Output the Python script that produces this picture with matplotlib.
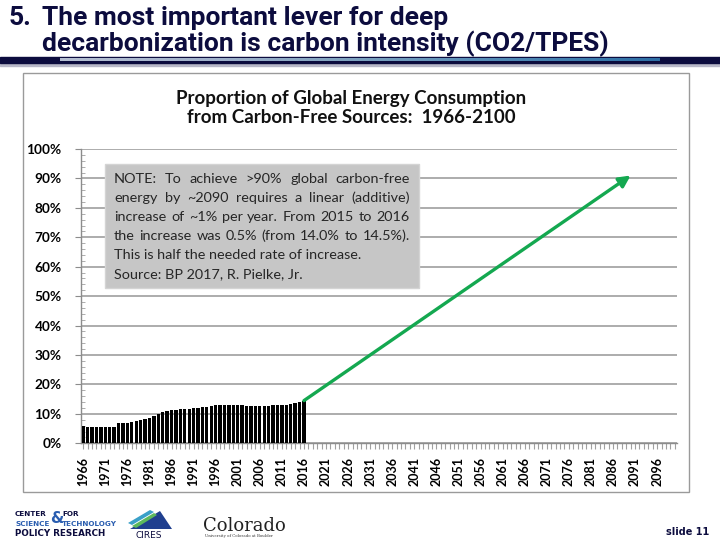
import numpy as np
import matplotlib.pyplot as plt
from matplotlib.patches import Rectangle, Polygon
from matplotlib.ticker import FixedLocator, MultipleLocator, FuncFormatter

# ---- data ----
years = list(range(1966, 2101))
bar_years = list(range(1966, 2017))
carbon_free_pct = [
    5.9, 5.6, 5.6, 5.6, 5.6, 5.6, 5.6, 5.6, 6.8, 6.9,
    6.9, 7.4, 7.5, 7.8, 8.2, 8.7, 9.3, 9.9, 10.5, 11.0,
    11.3, 11.4, 11.5, 11.6, 11.6, 12.0, 12.0, 12.3, 12.5, 12.8,
    12.9, 12.9, 13.0, 13.1, 13.0, 13.0, 13.0, 12.7, 12.7, 12.7,
    12.7, 12.6, 12.7, 13.0, 13.0, 13.0, 12.9, 13.2, 13.6, 14.0,
    14.5,
]
target_start = (2016, 14.5)
target_end = (2090, 91.0)
y_ticks = list(range(0, 101, 10))
x_label_years = list(range(1966, 2100, 5))

note_lines = [
    "NOTE: To achieve >90% global carbon-free",
    "energy by ~2090 requires a linear (additive)",
    "increase of ~1% per year. From 2015 to 2016",
    "the increase was 0.5% (from 14.0% to 14.5%).",
    "This is half the needed rate of increase.",
    "Source: BP 2017, R. Pielke, Jr.",
]
note_justify = [True, True, True, True, False, False]

slide_title = ["5.", "The most important lever for deep",
               "decarbonization is carbon intensity (CO2/TPES)"]
chart_title = "Proportion of Global Energy Consumption\nfrom Carbon-Free Sources:  1966-2100"

NAVY = "#0c0c3e"
GREEN = "#14a850"
GRID = "#a6a6a6"

W, H = 720, 540
fig = plt.figure(figsize=(7.2, 5.4), dpi=100)


def px_rect(x0, y0, x1, y1):
    # pixel box (top-left origin) -> figure fraction
    return [x0 / W, 1 - y1 / H, (x1 - x0) / W, (y1 - y0) / H]


# ---- main chart ----
ax = fig.add_axes(px_rect(81, 149, 677, 443.3))
ax.bar(bar_years, carbon_free_pct, width=0.75, color="black", zorder=3)
ax.annotate("", xy=target_end, xytext=target_start,
            arrowprops=dict(arrowstyle="-|>", color=GREEN, lw=2.4,
                            mutation_scale=17, shrinkA=0, shrinkB=0),
            zorder=4)

ax.set_xlim(years[0] - 0.5, years[-1] + 0.5)
ax.set_ylim(0, 100)
ax.yaxis.set_major_locator(FixedLocator(y_ticks))
ax.yaxis.set_minor_locator(MultipleLocator(2))
ax.yaxis.set_major_formatter(FuncFormatter(lambda v, p: f"{v:.0f}%"))
ax.xaxis.set_major_locator(FixedLocator(x_label_years))
ax.xaxis.set_minor_locator(FixedLocator(years))
ax.set_xticklabels([str(y) for y in x_label_years], rotation=90,
                   fontsize=9, fontweight="bold", family="Lato")
for lab in ax.get_yticklabels():
    lab.set_fontsize(9.8)
    lab.set_fontweight("bold")
    lab.set_family("Lato")

ax.grid(axis="y", color=GRID, lw=1.3, zorder=0)
ax.set_axisbelow(True)
for s in ["top", "right"]:
    ax.spines[s].set_visible(False)
for s in ["left", "bottom"]:
    ax.spines[s].set_color("#8c8c8c")
    ax.spines[s].set_linewidth(1.0)
ax.tick_params(axis="y", which="major", length=4, color="#8c8c8c", pad=10)
ax.tick_params(axis="y", which="minor", length=3, direction="in", color="#a0a0a0")
ax.tick_params(axis="x", which="both", length=4, color="#a0a0a0", width=0.8, pad=6)

# ---- slide decoration in pixel coordinates ----
deco = fig.add_axes([0, 0, 1, 1])
deco.axis("off")

tkw = dict(fontsize=19, fontweight="bold", family="Roboto", color=NAVY, va="baseline")
deco.text(9, 25, slide_title[0], **tkw)
deco.text(42, 25, slide_title[1], **tkw)
deco.text(42, 51, slide_title[2], **tkw)

# blue rule under the title
grad = np.linspace(0, 1, 256).reshape(1, -1)
deco.add_patch(Rectangle((0, 63), W, 2.5, color="#b8b8c8", zorder=1))
deco.add_patch(Rectangle((0, 57), W, 6, color=NAVY, zorder=2))
deco.imshow(np.vstack([grad, grad]), extent=(60, 660, 61.5, 58.5), cmap="Blues",
            vmin=-0.2, vmax=1.6, aspect="auto", zorder=3, alpha=0.8)
deco.set_xlim(0, W)
deco.set_ylim(H, 0)

# chart frame
deco.add_patch(Rectangle((23, 73), 666, 419, fill=False, ec="#9a9a9a", lw=1.0))
deco.text(351, 108, chart_title, fontsize=13.5, fontweight="bold", family="Lato",
          ha="center", va="center", linespacing=1.2, color="#111111")

# note box with justified text
deco.add_patch(Rectangle((105, 164), 314, 124, fc="#c6c6c6", ec="#d4d4d4", lw=1, zorder=5))
fig.canvas.draw()
rend = fig.canvas.get_renderer()
tx0, tx1 = 114, 410
for i, (line, just) in enumerate(zip(note_lines, note_justify)):
    yb = 183.3 + i * 19
    kw = dict(fontsize=10.4, family="Lato", color="#262626", va="baseline", zorder=6)
    if not just:
        deco.text(tx0, yb, line, **kw)
        continue
    words = line.split(" ")
    arts = [deco.text(0, yb, w, **kw) for w in words]
    widths = [a.get_window_extent(rend).width for a in arts]
    gap = (tx1 - tx0 - sum(widths)) / (len(words) - 1)
    x = tx0
    for a, wd in zip(arts, widths):
        a.set_x(x)
        x += wd + gap

# footer logos (approximate)
deco.text(15, 516, "CENTER", fontsize=5.2, fontweight="bold", color=NAVY, family="DejaVu Sans")
deco.text(50, 523, "&", fontsize=11, fontweight="bold", color="#2a5db0", family="DejaVu Sans")
deco.text(62, 516, "FOR", fontsize=5.2, fontweight="bold", color=NAVY, family="DejaVu Sans")
deco.text(15, 526, "SCIENCE", fontsize=5.2, fontweight="bold", color="#2a5db0", family="DejaVu Sans")
deco.text(62, 526, "TECHNOLOGY", fontsize=5.2, fontweight="bold", color="#2a5db0", family="DejaVu Sans")
deco.text(15, 536, "POLICY RESEARCH", fontsize=6.3, fontweight="bold", color=NAVY, family="DejaVu Sans")
deco.add_patch(Polygon([(130, 529), (160, 511), (172, 529)], closed=True, fc="#1f3f8f"))
deco.add_patch(Polygon([(128, 523), (150, 510), (154, 512), (132, 525)], closed=True, fc="#3aa0c8"))
deco.add_patch(Polygon([(132, 526), (154, 513), (157, 515), (136, 528)], closed=True, fc="#5cb85c"))
deco.text(149, 537.5, "CIRES", fontsize=6.5, color=NAVY, ha="center", va="baseline",
          family="DejaVu Sans")
deco.text(203, 531, "Colorado", fontsize=13, family="DejaVu Serif", color="#222222",
          va="baseline")
deco.text(205, 537.5, "University of Colorado at Boulder", fontsize=2.8, family="DejaVu Serif",
          color="#333333", va="baseline")
deco.text(709, 535, "slide 11", fontsize=7, fontweight="bold", color=NAVY, ha="right",
          va="baseline", family="DejaVu Sans")

fig.savefig("out.png", dpi=100, facecolor="white")
